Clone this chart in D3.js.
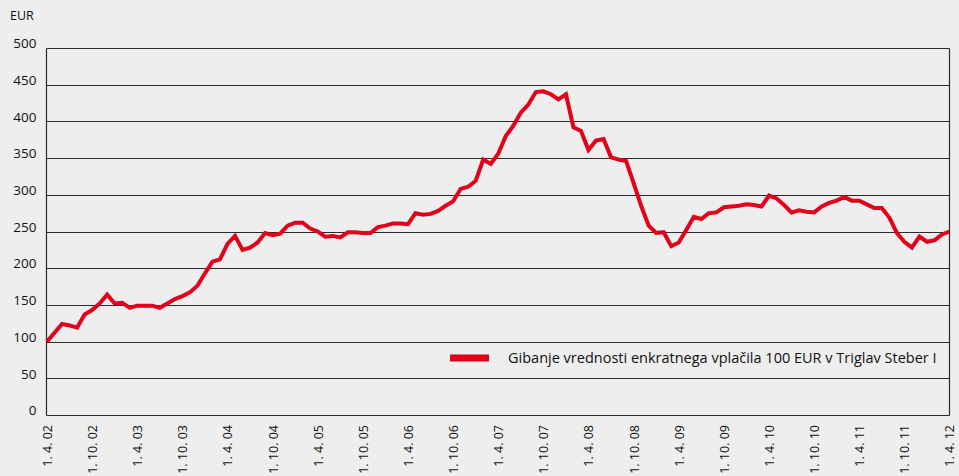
<!DOCTYPE html>
<html>
<head>
<meta charset="utf-8">
<script src="https://cdn.jsdelivr.net/npm/d3@7"></script>
<style>
  body { margin: 0; background: #eeeeee; }
  svg { display: block; font-family: "Open Sans", sans-serif; }
</style>
</head>
<body>
<svg></svg>
<script>
// monthly values, 1.4.02 .. 1.4.12
const values = [
  100, 112, 124, 122, 119, 137, 143, 152, 164, 152, 153, 146, 149, 149, 149, 146, 152, 158, 162, 167,
  176, 193, 209, 212, 233, 244, 225, 228, 235, 248, 245, 247, 258, 262, 262, 254, 250, 243, 244, 242,
  249, 249, 248, 248, 256, 258, 261, 261, 260, 275, 273, 274, 278, 285, 291, 308, 311, 319, 348, 342,
  356, 380, 394, 412, 423, 440, 441, 437, 430, 437, 392, 387, 361, 374, 376, 351, 348, 346, 316, 285,
  258, 248, 249, 230, 235, 252, 270, 267, 275, 276, 283, 284, 285, 287, 286, 284, 299, 295, 286, 276,
  279, 277, 276, 284, 289, 292, 297, 292, 292, 287, 282, 282, 269, 248, 236, 228, 243, 236, 238, 246,
  250
];
const tickLabels = [
  "1. 4. 02", "1. 10. 02", "1. 4. 03", "1. 10. 03", "1. 4. 04", "1. 10. 04", "1. 4. 05",
  "1. 10. 05", "1. 4. 06", "1. 10. 06", "1. 4. 07", "1. 10. 07", "1. 4. 08", "1. 10. 08",
  "1. 4. 09", "1. 10. 09", "1. 4. 10", "1. 10. 10", "1. 4. 11", "1. 10. 11", "1. 4. 12"
];
const yTicks = [0, 50, 100, 150, 200, 250, 300, 350, 400, 450, 500];
const seriesName = "Gibanje vrednosti enkratnega vplačila 100 EUR v Triglav Steber I";
const unit = "EUR";

let width = 959;
let height = 476;
let plotLeft = 46.5, plotRight = 949.5, plotTop = 48, plotBottom = 415;

let svg = d3.select('svg').attr('width', width).attr('height', height);

let xScale = d3.scaleLinear().domain([0, values.length - 1]).range([plotLeft + 0.5, plotRight]);
let yScale = d3.scaleLinear().domain([0, 500]).range([plotBottom, plotTop]);

// gridlines
svg.append('g')
   .selectAll('line')
   .data(yTicks)
   .enter()
   .append('line')
   .attr('x1', plotLeft)
   .attr('x2', plotRight)
   .attr('y1', d => Math.round(yScale(d)) + 0.5)
   .attr('y2', d => Math.round(yScale(d)) + 0.5)
   .attr('stroke', '#2a2a2a')
   .attr('stroke-width', 1.2)

// left axis and right border
svg.append('line')
   .attr('x1', plotLeft).attr('x2', plotLeft)
   .attr('y1', Math.round(yScale(500)) + 0.5).attr('y2', Math.round(yScale(0)) + 0.5)
   .attr('stroke', '#2a2a2a').attr('stroke-width', 1.2)
svg.append('line')
   .attr('x1', plotRight).attr('x2', plotRight)
   .attr('y1', Math.round(yScale(500)) + 0.5).attr('y2', Math.round(yScale(0)) + 0.5)
   .attr('stroke', '#2a2a2a').attr('stroke-width', 1.2)

// y labels
let yAxis = d3.axisLeft(yScale).tickValues(yTicks).tickSize(0).tickPadding(10);
let gy = svg.append('g')
   .attr('transform', 'translate(' + plotLeft + ',0)')
   .call(yAxis)
gy.select('.domain').remove()
gy.selectAll('text')
  .attr('font-size', 13.5)
  .attr('font-family', '"Open Sans", sans-serif')
  .attr('fill', '#111')
  .attr('dy', '-0.02em')

svg.append('text')
   .attr('x', 10)
   .attr('y', 20)
   .attr('font-size', 12.5)
   .attr('fill', '#111')
   .text(unit)

// x labels
let xAxis = d3.axisBottom(xScale)
   .tickValues(d3.range(0, values.length, 6))
   .tickFormat((d, i) => tickLabels[i])
   .tickSize(0);
let gx = svg.append('g')
   .attr('transform', 'translate(0,' + plotBottom + ')')
   .call(xAxis)
gx.select('.domain').remove()
gx.selectAll('text')
  .attr('font-size', 12.5)
  .attr('font-family', '"Open Sans", sans-serif')
  .attr('fill', '#111')
  .attr('transform', 'rotate(-90)')
  .attr('text-anchor', 'end')
  .attr('x', -10)
  .attr('y', 0)
  .attr('dy', '0.35em')

// series line
let line = d3.line()
   .x((d, i) => xScale(i))
   .y(d => yScale(d))

svg.append('path')
   .datum(values)
   .attr('d', line)
   .attr('fill', 'none')
   .attr('stroke', '#e2001a')
   .attr('stroke-width', 4)
   .attr('stroke-linejoin', 'miter')

// legend
let lg = svg.append('g').attr('transform', 'translate(450,358)')
lg.append('line')
  .attr('x1', 0).attr('x2', 39)
  .attr('stroke', '#e2001a').attr('stroke-width', 7)
lg.append('text')
  .attr('x', 58)
  .attr('y', 5)
  .attr('font-size', 14.5)
  .attr('fill', '#111')
  .text(seriesName)
</script>
</body>
</html>
